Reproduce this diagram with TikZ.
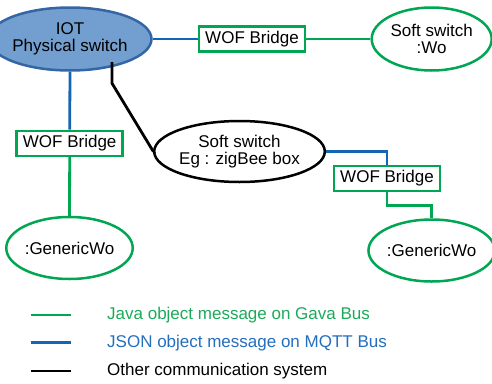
\documentclass[tikz,border=0pt]{standalone}
\usepackage{fontspec}
\setmainfont{Liberation Sans}
\usetikzlibrary{shapes.geometric}
\definecolor{gr}{RGB}{0,166,81}
\definecolor{grtext}{RGB}{28,170,90}
\definecolor{bl}{RGB}{21,101,178}
\definecolor{bltext}{RGB}{36,110,190}
\definecolor{iotfill}{RGB}{114,159,207}
\definecolor{iotdraw}{RGB}{52,101,164}
\begin{document}
\begin{tikzpicture}[x=1pt,y=-1pt,
  every node/.style={font=\fontsize{17}{16.5}\selectfont, align=center, inner sep=0pt},
  ell/.style={ellipse, line width=2.5pt},
  bridge/.style={rectangle, draw=gr, line width=2.5pt, minimum width=106pt, minimum height=25pt},
  gline/.style={draw=gr, line width=2.8pt},
  bline/.style={draw=bl, line width=2.8pt},
  kline/.style={draw=black, line width=2.8pt},
  legtext/.style={anchor=west}]
\useasboundingbox (0,0) rectangle (492,383);
% nodes
\node[ell, fill=iotfill, draw=iotdraw, minimum width=122pt, minimum height=63pt] (iot) at (70,39) {IOT\\Physical switch};
\node[bridge] (wof1) at (252,39) {WOF Bridge};
\node[ell, draw=gr, minimum width=120pt, minimum height=63pt] (sw) at (431.7,39) {Soft switch\\:Wo};
\node[bridge] (wof2) at (69.7,143.3) {WOF Bridge};
\node[ell, draw=gr, minimum width=122pt, minimum height=62pt] (gw1) at (69.5,248) {:GenericWo};
\node[ell, draw=black, minimum width=143pt, minimum height=61pt] (eg) at (239.5,151.5) {Soft switch\\Eg : zigBee box};
\node[bridge] (wof3) at (387,178.5) {WOF Bridge};
\node[ell, draw=gr, minimum width=120pt, minimum height=62pt] (gw2) at (431.7,250.5) {:GenericWo};
% connectors
\draw[bline] (iot.east) -- (wof1.west);
\draw[gline] (wof1.east) -- (sw.west);
\draw[bline] (iot.south) -- (wof2.north);
\draw[gline] (wof2.south) -- (gw1.north);
\coordinate (b0) at (112,62);
\coordinate (b1) at (112,83.3);
\coordinate (b2) at (153.3,151.5);
\draw[kline, line join=miter] (b0) -- (b1) -- (b2) -- (eg.west);
\draw[bline] (eg.east) -| (wof3.north);
\coordinate (c1) at (387,205.7);
\draw[gline] (wof3.south) -- (c1) -| (gw2.north);
% legend
\coordinate (l1a) at (30.7,315); \coordinate (l1b) at (70.7,315);
\coordinate (l2a) at (30.7,342.7); \coordinate (l2b) at (70.7,342.7);
\coordinate (l3a) at (30.7,371); \coordinate (l3b) at (70.7,371);
\draw[gline] (l1a) -- (l1b);
\draw[bline] (l2a) -- (l2b);
\draw[kline] (l3a) -- (l3b);
\node[legtext, text=grtext] (t1) at (107,315) {Java object message on Gava Bus};
\node[legtext, text=bltext] (t2) at (107,342.7) {JSON object message on MQTT Bus};
\node[legtext, text=black] (t3) at (107,371) {Other communication system};
\end{tikzpicture}
\end{document}
